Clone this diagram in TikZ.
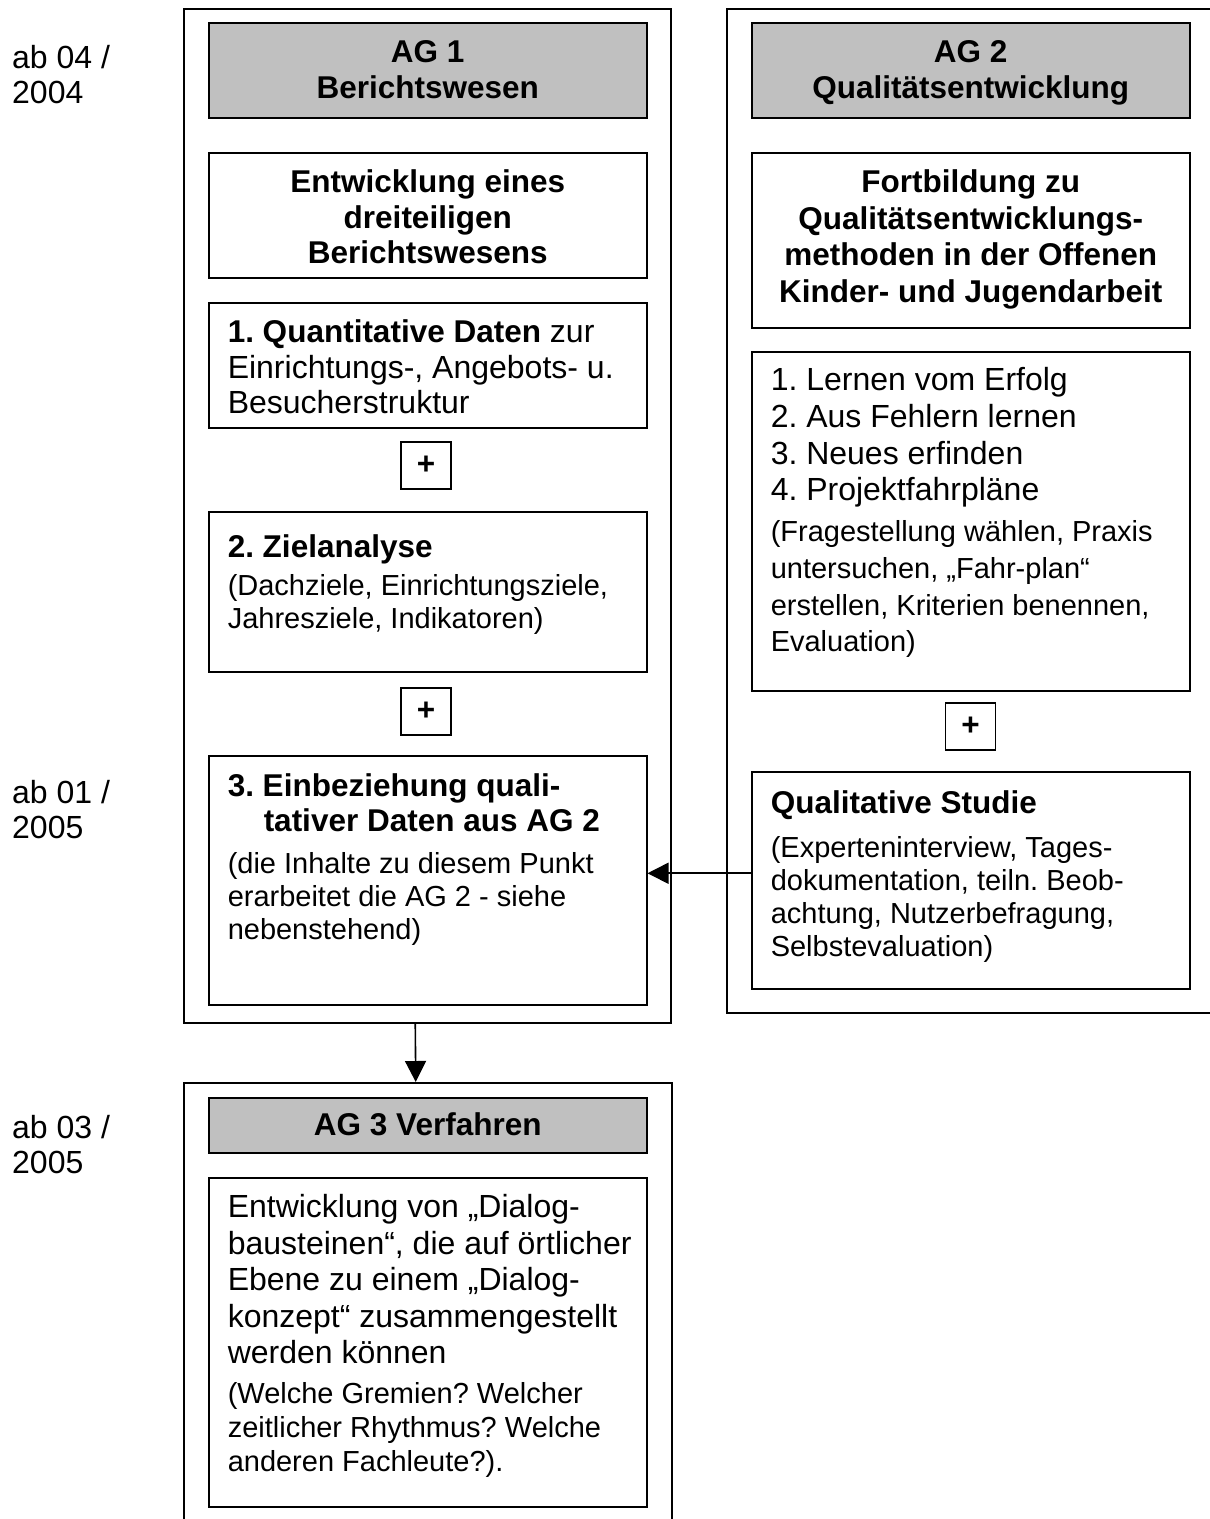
\documentclass[tikz,border=0pt]{standalone}
\usepackage{fontspec}
\setmainfont{Liberation Sans}
\usepackage{tikz}
\usetikzlibrary{arrows.meta}

\definecolor{hdrgray}{RGB}{192,192,192}
\frenchspacing
\newcommand{\celltext}[3][40pt]{\begin{minipage}[c][#2][t]{400pt}\parskip=0pt\rightskip=-20pt\rule{0pt}{#1}#3\end{minipage}}
\newcommand{\hd}[1]{{\fontsize{31.5}{35}\selectfont\bfseries #1}}
\newcommand{\aside}[3]{\par\vspace{#1}\fontsize{29}{#2}\selectfont #3}

\begin{document}
\begin{tikzpicture}[x=1pt, y=-1pt,
  agbox/.style={draw, line width=1.5pt, anchor=north west, inner sep=0pt},
  cellbox/.style={draw, line width=1.5pt, anchor=north west, inner xsep=19pt, inner ysep=0pt, font=\fontsize{32}{36.5}\selectfont},
  headbox/.style={cellbox, fill=hdrgray, font=\fontsize{31.5}{36}\selectfont\bfseries},
  plusbox/.style={draw, line width=1.5pt, minimum width=50pt, minimum height=47pt, inner sep=0pt, font=\fontsize{31.5}{36}\selectfont\bfseries},
  datelabel/.style={anchor=north west, inner sep=0pt, font=\fontsize{32}{35}\selectfont},
  >={Triangle[length=21pt,width=21pt]}]
\useasboundingbox (0,0) rectangle (1210,1519);
\clip (0,0) rectangle (1210,1519);

% outer frames
\node[agbox, minimum width=487pt, minimum height=1014pt] (ag1) at (183,8) {};
\node[agbox, minimum width=495pt, minimum height=1004pt] (ag2) at (726,8) {};
\node[agbox, minimum width=488pt, minimum height=480pt] (ag3) at (183,1082) {};

% dates
\node[datelabel] (d1) at (12,28) {\parbox[t]{150pt}{\rule{0pt}{40pt}ab 04 /\\2004}};
\node[datelabel] (d2) at (12,763) {\parbox[t]{150pt}{\rule{0pt}{40pt}ab 01 /\\2005}};
\node[datelabel] (d3) at (12,1098) {\parbox[t]{150pt}{\rule{0pt}{40pt}ab 03 /\\2005}};

% AG 1
\node[headbox] (hdr1) at (208,22) {\celltext{95pt}{\centering AG 1\\Berichtswesen}};
\node[cellbox, font=\fontsize{31.5}{35.5}\selectfont\bfseries] (dev) at (208,152) {\celltext{125pt}{\centering Entwicklung eines\\dreiteiligen\\Berichtswesens}};
\node[cellbox, font=\fontsize{32}{35.5}\selectfont] (quant) at (208,302) {\celltext{125pt}{\hd{1. Quantitative Daten} zur\\Einrichtungs-, Angebots- u.\\Besucherstruktur}};
\node[plusbox] (plusA) at (426,465.5) {+};
\node[cellbox] (goal) at (208,511) {\celltext[46pt]{160pt}{\hd{2. Zielanalyse}\aside{5pt}{33pt}{(Dachziele, Einrichtungsziele,\\Jahresziele, Indikatoren)}}};
\node[plusbox] (plusB) at (426,711.5) {+};
\node[cellbox, font=\fontsize{32}{35}\selectfont] (qual) at (208,755) {\celltext[41pt]{249pt}{\hd{3. Einbeziehung quali-}\\\hspace*{36pt}\hd{tativer Daten aus AG 2}\aside{9pt}{33pt}{(die Inhalte zu diesem Punkt\\erarbeitet die AG 2 - siehe\\nebenstehend)}}};

% AG 2
\node[headbox] (hdr2) at (751,22) {\celltext{95pt}{\centering AG 2\\Qualitätsentwicklung}};
\node[cellbox, font=\fontsize{31.5}{36.5}\selectfont\bfseries] (train) at (751,152) {\celltext{175pt}{\centering Fortbildung zu\\Qualitätsentwicklungs-\\methoden in der Offenen\\Kinder- und Jugendarbeit}};
\node[cellbox, font=\fontsize{32}{36.7}\selectfont] (methods) at (751,351) {\celltext[39pt]{339pt}{1. Lernen vom Erfolg\\2. Aus Fehlern lernen\\3. Neues erfinden\\4. Projektfahrpläne\aside{4.3pt}{36.7pt}{(Fragestellung wählen, Praxis\\untersuchen, „Fahr-plan“\\erstellen, Kriterien benennen,\\Evaluation)}}};
\node[plusbox] (plusC) at (970.5,726.5) {+};
\node[cellbox] (study) at (751,771) {\celltext[42pt]{217pt}{\hd{Qualitative Studie}\aside{11pt}{33pt}{(Experteninterview, Tages-\\dokumentation, teiln. Beob-\\achtung, Nutzerbefragung,\\Selbstevaluation)}}};

% AG 3
\node[headbox] (hdr3) at (208,1097) {\celltext[38pt]{55pt}{\centering AG 3 Verfahren}};
\node[cellbox] (dialog) at (208,1177) {\celltext{329pt}{Entwicklung von „Dialog-\\bausteinen“, die auf örtlicher\\Ebene zu einem „Dialog-\\konzept“ zusammengestellt\\werden können\aside{6pt}{34pt}{(Welche Gremien? Welcher\\zeitlicher Rhythmus? Welche\\anderen Fachleute?).}}};

% connections
\draw[->, line width=1.6pt] ([yshift=7pt]study.west) -- ([yshift=7pt]qual.east);
\draw[->, line width=1.6pt] ([xshift=-12pt]ag1.south) -- ([xshift=-12pt]ag3.north);

\end{tikzpicture}
\end{document}
